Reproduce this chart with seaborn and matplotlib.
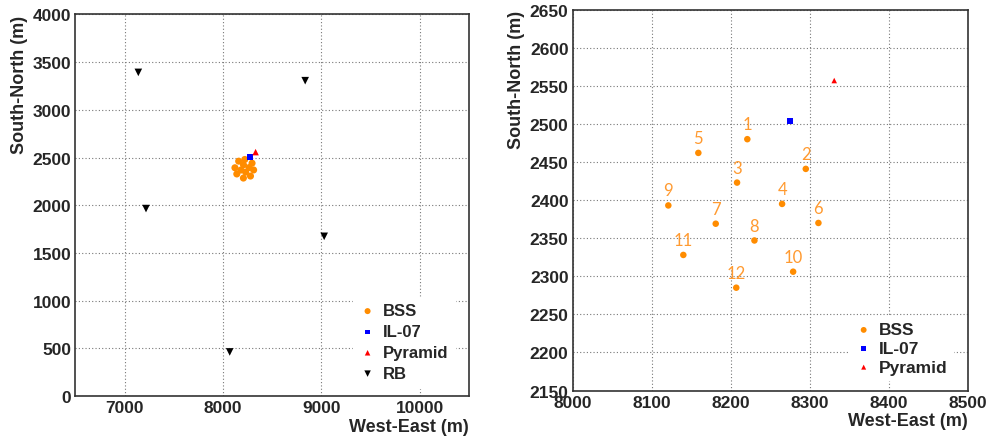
import numpy as np
import matplotlib
matplotlib.use('Agg')
import matplotlib.pyplot as plt
from matplotlib.ticker import MultipleLocator
import seaborn as sns

# Station positions (m)
bss_x = [8221, 8295, 8208, 8265, 8159, 8311, 8181, 8230, 8121, 8279, 8140, 8207]
bss_y = [2480, 2441, 2423, 2395, 2462, 2370, 2369, 2347, 2393, 2306, 2328, 2285]
bss_num = ['1', '2', '3', '4', '5', '6', '7', '8', '9', '10', '11', '12']
il07_x = [8275]
il07_y = [2504]
pyr_x = [8331]
pyr_y = [2557]
rb_x = [7139, 8835, 7217, 9028, 8068]
rb_y = [3393, 3306, 1965, 1674, 462]

sns.set_style('white')
plt.rcParams['font.family'] = ['Liberation Sans', 'DejaVu Sans']
plt.rcParams['font.weight'] = 'bold'
plt.rcParams['axes.labelweight'] = 'bold'

oranje = '#ff8c00'
tekst_oranje = '#ff9a30'

fig = plt.figure(figsize=(9.89, 4.39), dpi=100)
ax1 = fig.add_axes([0.0763, 0.0957, 0.3979, 0.869])
ax2 = fig.add_axes([0.5791, 0.1082, 0.3994, 0.8674])


def opmaak(ax, xlim, ylim, xmaj, ymaj, ymin):
    ax.set_xlim(*xlim)
    ax.set_ylim(*ylim)
    ax.xaxis.set_major_locator(MultipleLocator(xmaj))
    ax.yaxis.set_major_locator(MultipleLocator(ymaj))
    ax.yaxis.set_minor_locator(MultipleLocator(ymin))
    ax.grid(True, which='major', color='#777777', linestyle=(0, (1, 2)),
            linewidth=0.8)
    ax.set_axisbelow(True)
    ax.tick_params(axis='both', which='major', direction='in', length=8.5,
                   width=1, labelsize=12.5, pad=3)
    ax.tick_params(axis='y', which='minor', direction='in', length=4.2,
                   width=1)
    ax.tick_params(axis='x', which='minor', length=0)
    for sp in ax.spines.values():
        sp.set_color('#333333')
        sp.set_linewidth(1.2)
    ax.set_xlabel('West-East (m)', loc='right', fontsize=13, labelpad=2)
    ax.set_ylabel('South-North (m)', loc='top', fontsize=13)


# Linker overzicht
sns.scatterplot(x=bss_x, y=bss_y, ax=ax1, color=oranje, marker='o', s=26,
                edgecolor='none', label='BSS')
sns.scatterplot(x=il07_x, y=il07_y, ax=ax1, color='blue', marker='s', s=16,
                edgecolor='none', label='IL-07')
sns.scatterplot(x=pyr_x, y=pyr_y, ax=ax1, color='red', marker='^', s=22,
                edgecolor='none', label='Pyramid')
sns.scatterplot(x=rb_x, y=rb_y, ax=ax1, color='black', marker='v', s=30,
                edgecolor='none', label='RB')
opmaak(ax1, (6500, 10500), (0, 4000), 1000, 500, 100)
ax1.yaxis.set_label_coords(-0.12, 1.0)
leg1 = ax1.legend(loc='lower right', bbox_to_anchor=(0.985, 0.0),
                  frameon=True, fancybox=False, framealpha=1,
                  edgecolor='white', prop={'weight': 'bold', 'size': 12},
                  handletextpad=0.4, handlelength=1.0, labelspacing=0.35,
                  markerscale=0.85, borderpad=0.4)

# Rechter detail
sns.scatterplot(x=bss_x, y=bss_y, ax=ax2, color=oranje, marker='o', s=22,
                edgecolor='none', label='BSS')
sns.scatterplot(x=il07_x, y=il07_y, ax=ax2, color='blue', marker='s', s=14,
                edgecolor='none', label='IL-07')
sns.scatterplot(x=pyr_x, y=pyr_y, ax=ax2, color='red', marker='^', s=16,
                edgecolor='none', label='Pyramid')
for x, y, n in zip(bss_x, bss_y, bss_num):
    ax2.annotate(n, (x, y), xytext=(0, 5), textcoords='offset points',
                 ha='center', va='bottom', color=tekst_oranje, fontsize=12,
                 fontweight='normal', family=['Lato', 'DejaVu Sans'])
opmaak(ax2, (8000, 8500), (2150, 2650), 100, 50, 10)
ax2.yaxis.set_label_coords(-0.12, 1.0)
leg2 = ax2.legend(loc='lower right', bbox_to_anchor=(0.985, 0.005),
                  frameon=True, fancybox=False, framealpha=1,
                  edgecolor='white', prop={'weight': 'bold', 'size': 12.5},
                  handletextpad=0.4, handlelength=1.0, labelspacing=0.2,
                  markerscale=0.9, borderpad=0.3)

plt.savefig('out.png', dpi=100)
